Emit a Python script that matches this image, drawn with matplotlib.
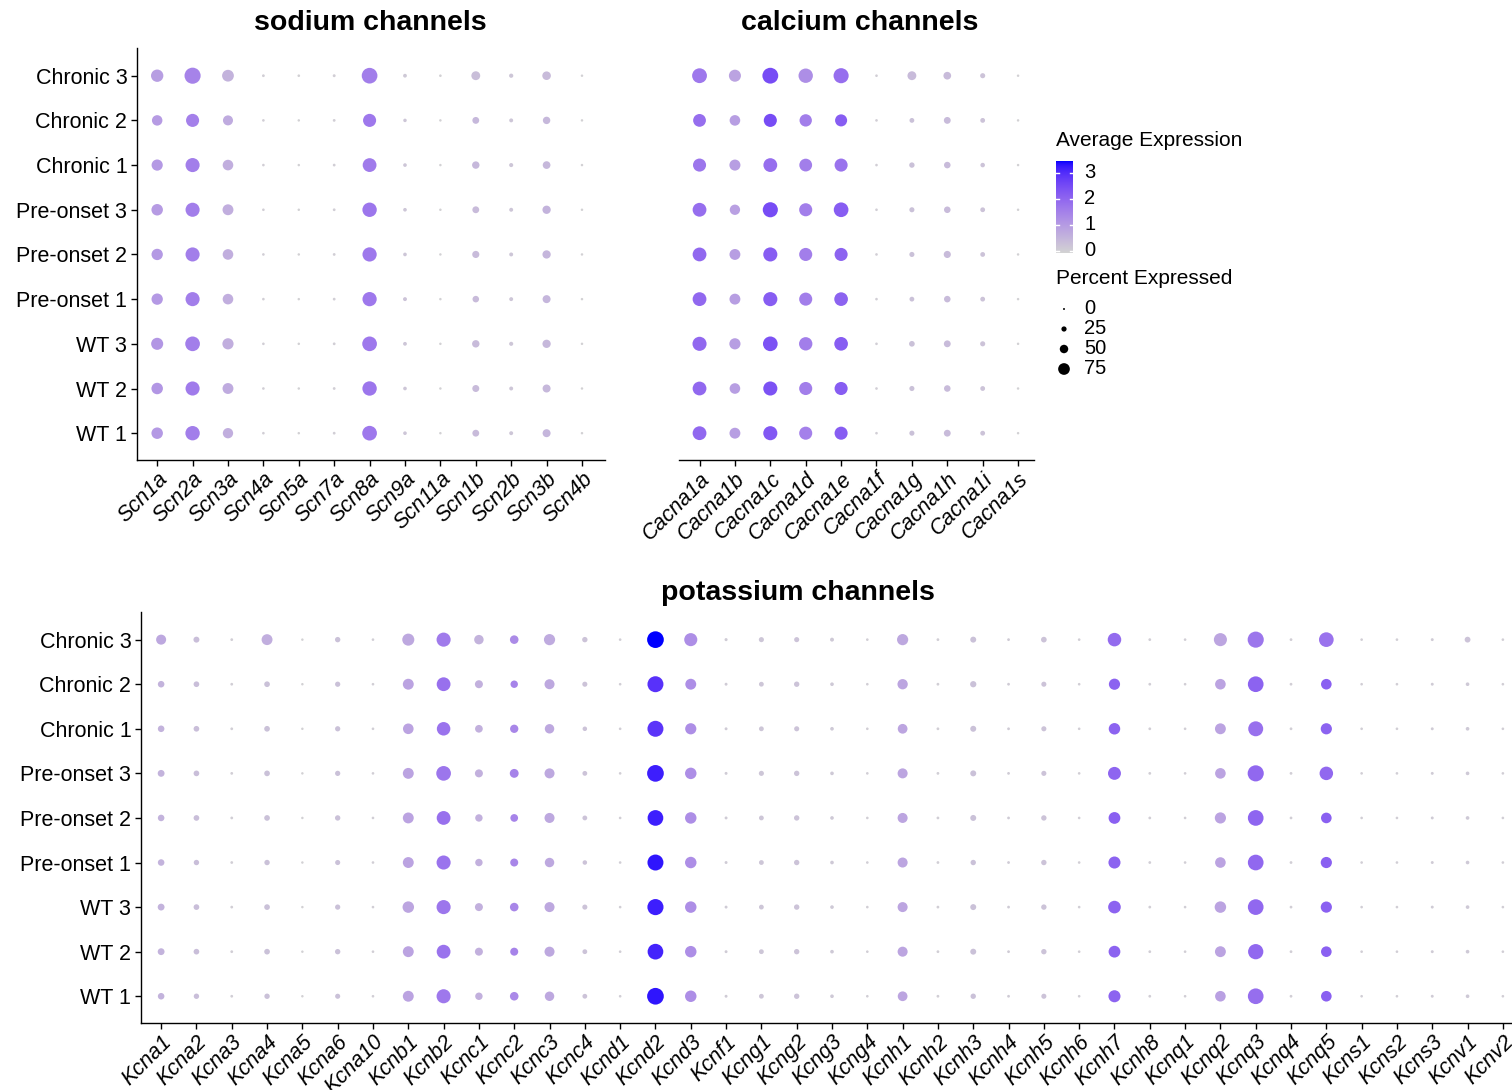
import numpy as np
import matplotlib
matplotlib.use("Agg")
import matplotlib.pyplot as plt
from matplotlib.colors import ListedColormap, Normalize

plt.rcParams['font.family'] = ['Liberation Sans', 'DejaVu Sans']

# ---------------- data ----------------
groups = ["WT 1", "WT 2", "WT 3", "Pre-onset 1", "Pre-onset 2", "Pre-onset 3",
          "Chronic 1", "Chronic 2", "Chronic 3"]

sodium_genes = ["Scn1a", "Scn2a", "Scn3a", "Scn4a", "Scn5a", "Scn7a", "Scn8a",
                "Scn9a", "Scn11a", "Scn1b", "Scn2b", "Scn3b", "Scn4b"]
# rows: genes; columns: groups (WT 1 ... Chronic 3)
sodium_pct = [
    [64, 64, 68, 63, 63, 64, 62, 57, 70],
    [84, 82, 86, 82, 82, 82, 82, 75, 96],
    [56, 60, 62, 58, 58, 60, 58, 54, 66],
    [3, 3, 3, 3, 3, 3, 3, 3, 4],
    [2, 2, 2, 2, 2, 2, 2, 2, 3],
    [4, 4, 4, 4, 4, 4, 4, 4, 5],
    [86, 84, 86, 83, 83, 84, 80, 75, 93],
    [10, 10, 11, 12, 10, 10, 10, 9, 11],
    [2, 2, 2, 2, 2, 2, 2, 2, 3],
    [32, 33, 36, 30, 34, 32, 36, 32, 46],
    [12, 12, 13, 12, 12, 12, 13, 12, 14],
    [40, 40, 42, 40, 42, 42, 38, 36, 44],
    [2, 2, 2, 2, 2, 2, 2, 2, 2],
]
sodium_expr = [
    [1.10, 1.15, 1.15, 1.10, 1.10, 1.05, 1.10, 1.05, 1.00],
    [1.60, 1.65, 1.60, 1.60, 1.60, 1.60, 1.60, 1.55, 1.50],
    [0.70, 0.75, 0.70, 0.70, 0.70, 0.70, 0.70, 0.75, 0.60],
    [0.10, 0.10, 0.10, 0.10, 0.10, 0.10, 0.10, 0.10, 0.10],
    [0.05, 0.05, 0.05, 0.05, 0.05, 0.05, 0.05, 0.05, 0.05],
    [0.10, 0.10, 0.10, 0.10, 0.10, 0.10, 0.10, 0.10, 0.10],
    [1.70, 1.75, 1.70, 1.70, 1.70, 1.75, 1.65, 1.70, 1.60],
    [0.25, 0.25, 0.25, 0.30, 0.25, 0.25, 0.25, 0.25, 0.20],
    [0.05, 0.05, 0.05, 0.05, 0.05, 0.05, 0.05, 0.05, 0.05],
    [0.45, 0.45, 0.45, 0.45, 0.45, 0.45, 0.50, 0.50, 0.40],
    [0.25, 0.25, 0.25, 0.25, 0.25, 0.25, 0.25, 0.25, 0.25],
    [0.55, 0.50, 0.50, 0.55, 0.55, 0.60, 0.50, 0.50, 0.45],
    [0.05, 0.05, 0.05, 0.05, 0.05, 0.05, 0.05, 0.05, 0.05],
]

calcium_genes = ["Cacna1a", "Cacna1b", "Cacna1c", "Cacna1d", "Cacna1e",
                 "Cacna1f", "Cacna1g", "Cacna1h", "Cacna1i", "Cacna1s"]
calcium_pct = [
    [80, 80, 82, 80, 80, 80, 75, 73, 87],
    [60, 58, 62, 60, 60, 56, 61, 58, 68],
    [82, 82, 86, 82, 82, 89, 80, 75, 94],
    [75, 75, 77, 75, 75, 75, 73, 70, 84],
    [75, 75, 79, 79, 75, 86, 75, 68, 89],
    [3, 3, 3, 3, 3, 3, 3, 3, 3],
    [20, 20, 24, 18, 20, 20, 22, 18, 46],
    [32, 30, 32, 30, 34, 30, 30, 32, 38],
    [18, 18, 20, 18, 18, 18, 16, 18, 20],
    [2, 2, 2, 2, 2, 2, 2, 2, 2],
]
calcium_expr = [
    [2.00, 2.00, 2.00, 2.00, 2.00, 1.90, 1.75, 1.90, 1.70],
    [1.00, 1.00, 1.00, 1.00, 1.00, 0.95, 1.00, 1.00, 0.90],
    [2.30, 2.40, 2.40, 2.20, 2.20, 2.50, 1.90, 2.50, 2.50],
    [1.55, 1.60, 1.60, 1.60, 1.60, 1.60, 1.60, 1.60, 1.30],
    [2.20, 2.20, 2.20, 2.10, 2.10, 2.20, 1.80, 2.20, 1.90],
    [0.10, 0.10, 0.10, 0.10, 0.10, 0.10, 0.10, 0.10, 0.10],
    [0.35, 0.35, 0.35, 0.35, 0.35, 0.35, 0.35, 0.35, 0.45],
    [0.45, 0.45, 0.45, 0.45, 0.45, 0.45, 0.45, 0.45, 0.45],
    [0.30, 0.30, 0.30, 0.30, 0.30, 0.30, 0.30, 0.30, 0.30],
    [0.05, 0.05, 0.05, 0.05, 0.05, 0.05, 0.05, 0.05, 0.05],
]

potassium_genes = ["Kcna1", "Kcna2", "Kcna3", "Kcna4", "Kcna5", "Kcna6", "Kcna10",
                   "Kcnb1", "Kcnb2", "Kcnc1", "Kcnc2", "Kcnc3", "Kcnc4", "Kcnd1",
                   "Kcnd2", "Kcnd3", "Kcnf1", "Kcng1", "Kcng2", "Kcng3", "Kcng4",
                   "Kcnh1", "Kcnh2", "Kcnh3", "Kcnh4", "Kcnh5", "Kcnh6", "Kcnh7",
                   "Kcnh8", "Kcnq1", "Kcnq2", "Kcnq3", "Kcnq4", "Kcnq5", "Kcns1",
                   "Kcns2", "Kcns3", "Kcnv1", "Kcnv2"]
potassium_pct = [
    [30, 32, 32, 30, 30, 32, 30, 30, 54],   # Kcna1
    [22, 24, 24, 22, 24, 24, 24, 24, 26],   # Kcna2
    [4, 4, 4, 4, 4, 4, 4, 4, 4],            # Kcna3
    [22, 24, 24, 22, 24, 24, 24, 24, 60],   # Kcna4
    [2, 2, 2, 2, 2, 2, 2, 2, 2],            # Kcna5
    [20, 22, 21, 20, 22, 21, 21, 21, 22],   # Kcna6
    [3, 3, 3, 3, 3, 3, 3, 3, 3],            # Kcna10
    [60, 60, 64, 60, 60, 60, 58, 60, 68],   # Kcnb1
    [82, 80, 82, 82, 80, 86, 78, 80, 82],   # Kcnb2
    [36, 40, 40, 36, 36, 40, 38, 40, 50],   # Kcnc1
    [44, 40, 44, 40, 38, 46, 42, 36, 44],   # Kcnc2
    [50, 54, 54, 50, 54, 54, 50, 54, 62],   # Kcnc3
    [18, 18, 20, 16, 18, 18, 16, 20, 22],   # Kcnc4
    [3, 3, 3, 3, 3, 3, 3, 3, 3],            # Kcnd1
    [100, 93, 96, 95, 93, 100, 95, 95, 100],  # Kcnd2
    [64, 64, 64, 64, 64, 64, 62, 60, 75],   # Kcnd3
    [5, 5, 5, 5, 5, 5, 5, 5, 6],            # Kcnf1
    [18, 18, 18, 18, 18, 20, 18, 18, 20],   # Kcng1
    [22, 22, 22, 22, 22, 22, 20, 22, 20],   # Kcng2
    [10, 10, 10, 10, 10, 10, 10, 10, 12],   # Kcng3
    [3, 3, 3, 3, 3, 3, 3, 3, 3],            # Kcng4
    [52, 54, 54, 54, 54, 54, 52, 56, 62],   # Kcnh1
    [4, 4, 4, 4, 4, 4, 4, 4, 4],            # Kcnh2
    [22, 26, 26, 22, 26, 26, 26, 28, 26],   # Kcnh3
    [4, 4, 4, 4, 4, 4, 4, 4, 4],            # Kcnh4
    [20, 22, 22, 22, 22, 20, 20, 20, 24],   # Kcnh5
    [3, 3, 3, 3, 3, 3, 3, 3, 3],            # Kcnh6
    [68, 66, 72, 68, 66, 74, 64, 62, 78],   # Kcnh7
    [4, 4, 4, 4, 4, 4, 4, 4, 4],            # Kcnh8
    [3, 3, 3, 3, 3, 3, 3, 3, 3],            # Kcnq1
    [58, 60, 64, 58, 62, 58, 60, 58, 75],   # Kcnq2
    [93, 90, 93, 93, 93, 96, 88, 93, 96],   # Kcnq3
    [4, 4, 4, 4, 4, 4, 4, 4, 4],            # Kcnq4
    [58, 58, 62, 62, 58, 78, 62, 58, 86],   # Kcnq5
    [3, 3, 3, 3, 3, 3, 3, 3, 3],            # Kcns1
    [3, 3, 3, 3, 3, 3, 3, 3, 3],            # Kcns2
    [5, 5, 5, 5, 5, 5, 5, 5, 5],            # Kcns3
    [10, 10, 10, 10, 10, 10, 10, 10, 25],   # Kcnv1
    [3, 3, 3, 3, 3, 3, 3, 3, 3],            # Kcnv2
]
potassium_expr = [
    [0.60, 0.60, 0.60, 0.60, 0.60, 0.60, 0.60, 0.60, 0.80],   # Kcna1
    [0.40, 0.40, 0.40, 0.40, 0.40, 0.40, 0.40, 0.40, 0.40],   # Kcna2
    [0.10, 0.10, 0.10, 0.10, 0.10, 0.10, 0.10, 0.10, 0.10],   # Kcna3
    [0.35, 0.35, 0.35, 0.35, 0.35, 0.35, 0.35, 0.35, 0.70],   # Kcna4
    [0.05, 0.05, 0.05, 0.05, 0.05, 0.05, 0.05, 0.05, 0.05],   # Kcna5
    [0.35, 0.35, 0.35, 0.35, 0.35, 0.35, 0.35, 0.35, 0.35],   # Kcna6
    [0.10, 0.10, 0.10, 0.10, 0.10, 0.10, 0.10, 0.10, 0.10],   # Kcna10
    [0.90, 0.90, 0.85, 0.90, 0.90, 0.90, 0.90, 0.90, 0.80],   # Kcnb1
    [1.70, 1.80, 1.75, 1.80, 1.85, 1.75, 1.80, 1.85, 1.65],   # Kcnb2
    [0.65, 0.65, 0.65, 0.65, 0.65, 0.65, 0.65, 0.65, 0.60],   # Kcnc1
    [1.40, 1.50, 1.45, 1.45, 1.50, 1.50, 1.45, 1.50, 1.35],   # Kcnc2
    [0.80, 0.80, 0.80, 0.80, 0.80, 0.80, 0.80, 0.80, 0.75],   # Kcnc3
    [0.30, 0.30, 0.30, 0.30, 0.30, 0.30, 0.30, 0.30, 0.30],   # Kcnc4
    [0.10, 0.10, 0.10, 0.10, 0.10, 0.10, 0.10, 0.10, 0.10],   # Kcnd1
    [3.30, 3.15, 3.20, 3.30, 3.20, 3.20, 2.90, 2.95, 3.45],   # Kcnd2
    [1.30, 1.30, 1.30, 1.30, 1.30, 1.30, 1.30, 1.30, 1.30],   # Kcnd3
    [0.15, 0.15, 0.15, 0.15, 0.15, 0.15, 0.15, 0.15, 0.15],   # Kcnf1
    [0.25, 0.25, 0.25, 0.25, 0.25, 0.25, 0.25, 0.25, 0.25],   # Kcng1
    [0.30, 0.30, 0.30, 0.30, 0.30, 0.30, 0.30, 0.30, 0.30],   # Kcng2
    [0.20, 0.20, 0.20, 0.20, 0.20, 0.20, 0.20, 0.20, 0.20],   # Kcng3
    [0.10, 0.10, 0.10, 0.10, 0.10, 0.10, 0.10, 0.10, 0.10],   # Kcng4
    [0.85, 0.85, 0.85, 0.85, 0.85, 0.85, 0.85, 0.85, 0.80],   # Kcnh1
    [0.10, 0.10, 0.10, 0.10, 0.10, 0.10, 0.10, 0.10, 0.10],   # Kcnh2
    [0.35, 0.35, 0.35, 0.35, 0.35, 0.35, 0.35, 0.35, 0.35],   # Kcnh3
    [0.15, 0.15, 0.15, 0.15, 0.15, 0.15, 0.15, 0.15, 0.15],   # Kcnh4
    [0.30, 0.30, 0.30, 0.30, 0.30, 0.30, 0.30, 0.30, 0.30],   # Kcnh5
    [0.10, 0.10, 0.10, 0.10, 0.10, 0.10, 0.10, 0.10, 0.10],   # Kcnh6
    [2.10, 2.10, 2.10, 2.10, 2.15, 2.05, 2.10, 2.10, 1.95],   # Kcnh7
    [0.10, 0.10, 0.10, 0.10, 0.10, 0.10, 0.10, 0.10, 0.10],   # Kcnh8
    [0.10, 0.10, 0.10, 0.10, 0.10, 0.10, 0.10, 0.10, 0.10],   # Kcnq1
    [0.95, 0.90, 0.90, 0.90, 0.90, 0.90, 0.90, 0.90, 0.85],   # Kcnq2
    [1.90, 2.00, 2.00, 2.00, 2.05, 2.00, 1.85, 2.10, 1.75],   # Kcnq3
    [0.10, 0.10, 0.10, 0.10, 0.10, 0.10, 0.10, 0.10, 0.10],   # Kcnq4
    [2.15, 2.15, 2.15, 2.15, 2.15, 2.00, 2.10, 2.15, 1.80],   # Kcnq5
    [0.10, 0.10, 0.10, 0.10, 0.10, 0.10, 0.10, 0.10, 0.10],   # Kcns1
    [0.10, 0.10, 0.10, 0.10, 0.10, 0.10, 0.10, 0.10, 0.10],   # Kcns2
    [0.15, 0.15, 0.15, 0.15, 0.15, 0.15, 0.15, 0.15, 0.15],   # Kcns3
    [0.20, 0.20, 0.20, 0.20, 0.20, 0.20, 0.20, 0.20, 0.30],   # Kcnv1
    [0.10, 0.10, 0.10, 0.10, 0.10, 0.10, 0.10, 0.10, 0.10],   # Kcnv2
]

legend_pct = [0, 25, 50, 75]
cbar_ticks = [0, 1, 2, 3]
expr_min, expr_max = 0.0, 3.45

# ---------------- colour map: Lab interpolation lightgrey -> blue ----------------
_WHITE = np.array([0.95047, 1.0, 1.08883])
_M = np.array([[0.4124564, 0.3575761, 0.1804375],
               [0.2126729, 0.7151522, 0.0721750],
               [0.0193339, 0.1191920, 0.9503041]])


def rgb2lab(rgb):
    c = np.asarray(rgb, float)
    lin = np.where(c <= 0.04045, c / 12.92, ((c + 0.055) / 1.055) ** 2.4)
    xyz = _M @ lin / _WHITE
    f = np.where(xyz > 0.008856, np.cbrt(xyz), 7.787 * xyz + 16 / 116)
    return np.array([116 * f[1] - 16, 500 * (f[0] - f[1]), 200 * (f[1] - f[2])])


def lab2rgb(lab):
    L, a, b = lab
    fy = (L + 16) / 116
    fx = fy + a / 500
    fz = fy - b / 200
    f = np.array([fx, fy, fz])
    xyz = np.where(f ** 3 > 0.008856, f ** 3, (f - 16 / 116) / 7.787) * _WHITE
    lin = np.linalg.solve(_M, xyz)
    lin = np.clip(lin, 0, 1)
    c = np.where(lin <= 0.0031308, 12.92 * lin, 1.055 * lin ** (1 / 2.4) - 0.055)
    return np.clip(c, 0, 1)


lo = rgb2lab(np.array([211, 211, 211]) / 255)
hi = rgb2lab(np.array([0, 0, 255]) / 255)
cm_colors = [lab2rgb(lo + (hi - lo) * t) for t in np.linspace(0, 1, 256)]
cmap = ListedColormap(cm_colors)
norm = Normalize(expr_min, expr_max)

# ---------------- figure ----------------
W, H = 1512, 1090
fig = plt.figure(figsize=(W / 100, H / 100), dpi=100)


def px_axes(l, t, r, b):
    return fig.add_axes([l / W, 1 - b / H, (r - l) / W, (b - t) / H])


def diam_to_s(pct):
    d_px = 2.2 + 0.145 * np.asarray(pct, float)
    return (d_px * 0.72) ** 2


TICK_FS = 15.5
TITLE_FS = 20.5


def dotpanel(ax, genes, pct, expr, show_y=True):
    pct = np.asarray(pct, float)
    expr = np.asarray(expr, float)
    gi, ri = np.meshgrid(np.arange(len(genes)), np.arange(len(groups)), indexing="ij")
    ax.scatter(gi.ravel(), ri.ravel(), s=diam_to_s(pct.ravel()),
               c=expr.ravel(), cmap=cmap, norm=norm, linewidths=0, zorder=3)
    ax.set_xticks(np.arange(len(genes)))
    ax.set_xticklabels(genes, rotation=45, ha="right", rotation_mode="anchor",
                       fontsize=TICK_FS, fontstyle="italic")
    ax.set_ylim(-0.6, len(groups) - 1 + 0.62)
    for s in ["top", "right"]:
        ax.spines[s].set_visible(False)
    ax.spines["bottom"].set_linewidth(1.0)
    ax.spines["left"].set_linewidth(1.0)
    ax.tick_params(axis="x", length=4, width=1.0, pad=2)
    if show_y:
        ax.set_yticks(np.arange(len(groups)))
        ax.set_yticklabels(groups, fontsize=TICK_FS)
        ax.tick_params(axis="y", length=4, width=1.0, pad=3)
    else:
        ax.spines["left"].set_visible(False)
        ax.set_yticks([])
    ax.patch.set_alpha(0)


ax_na = px_axes(137, 48, 605, 460)
dotpanel(ax_na, sodium_genes, sodium_pct, sodium_expr)
ax_na.set_xlim(-0.57, len(sodium_genes) - 1 + 0.65)

ax_ca = px_axes(679, 48, 1034, 460)
dotpanel(ax_ca, calcium_genes, calcium_pct, calcium_expr, show_y=False)
ax_ca.set_xlim(-0.58, len(calcium_genes) - 1 + 0.45)

ax_k = px_axes(141, 612, 1523, 1023)
dotpanel(ax_k, potassium_genes, potassium_pct, potassium_expr)
ax_k.set_xlim(-0.57, len(potassium_genes) - 1 + 0.57)

fig.text(370 / W, 1 - 23 / H, "sodium channels", fontsize=TITLE_FS, fontweight="bold",
         ha="center", va="center")
fig.text(860 / W, 1 - 23 / H, "calcium channels", fontsize=TITLE_FS, fontweight="bold",
         ha="center", va="center")
fig.text(798 / W, 1 - 593 / H, "potassium channels", fontsize=TITLE_FS, fontweight="bold",
         ha="center", va="center")

# ---------------- legends ----------------
LEG_TITLE_FS = 15
LEG_FS = 14.5
fig.text(1056 / W, 1 - 141 / H, "Average Expression", fontsize=LEG_TITLE_FS,
         ha="left", va="center")
cax = px_axes(1056, 161, 1073, 253)
grad = np.linspace(expr_min, expr_max, 256).reshape(-1, 1)
cax.imshow(grad, aspect="auto", origin="lower", cmap=cmap, norm=norm,
           extent=[0, 1, expr_min - 0.08, expr_max])
cax.set_xlim(0, 1)
cax.set_ylim(expr_min - 0.08, expr_max)
for t in cbar_ticks:
    cax.plot([0, 0.2], [t, t], color="white", lw=1)
    cax.plot([0.8, 1], [t, t], color="white", lw=1)
cax.set_axis_off()
for t in cbar_ticks:
    y_px = 251 - 26 * t
    fig.text(1084 / W, 1 - y_px / H, str(t), fontsize=LEG_FS, ha="left", va="center")

fig.text(1056 / W, 1 - 279 / H, "Percent Expressed", fontsize=LEG_TITLE_FS,
         ha="left", va="center")
lax = px_axes(1050, 299, 1080, 379)
lax.set_xlim(0, 30)
lax.set_ylim(379, 299)
ly = [309, 329, 349, 369]
lax.scatter([14] * len(legend_pct), ly, s=diam_to_s(legend_pct) * 0.8, color="black",
            linewidths=0)
lax.set_axis_off()
for p, y in zip(legend_pct, ly):
    fig.text(1084 / W, 1 - y / H, str(p), fontsize=LEG_FS, ha="left", va="center")

fig.savefig("out.png", dpi=100, facecolor="white")
